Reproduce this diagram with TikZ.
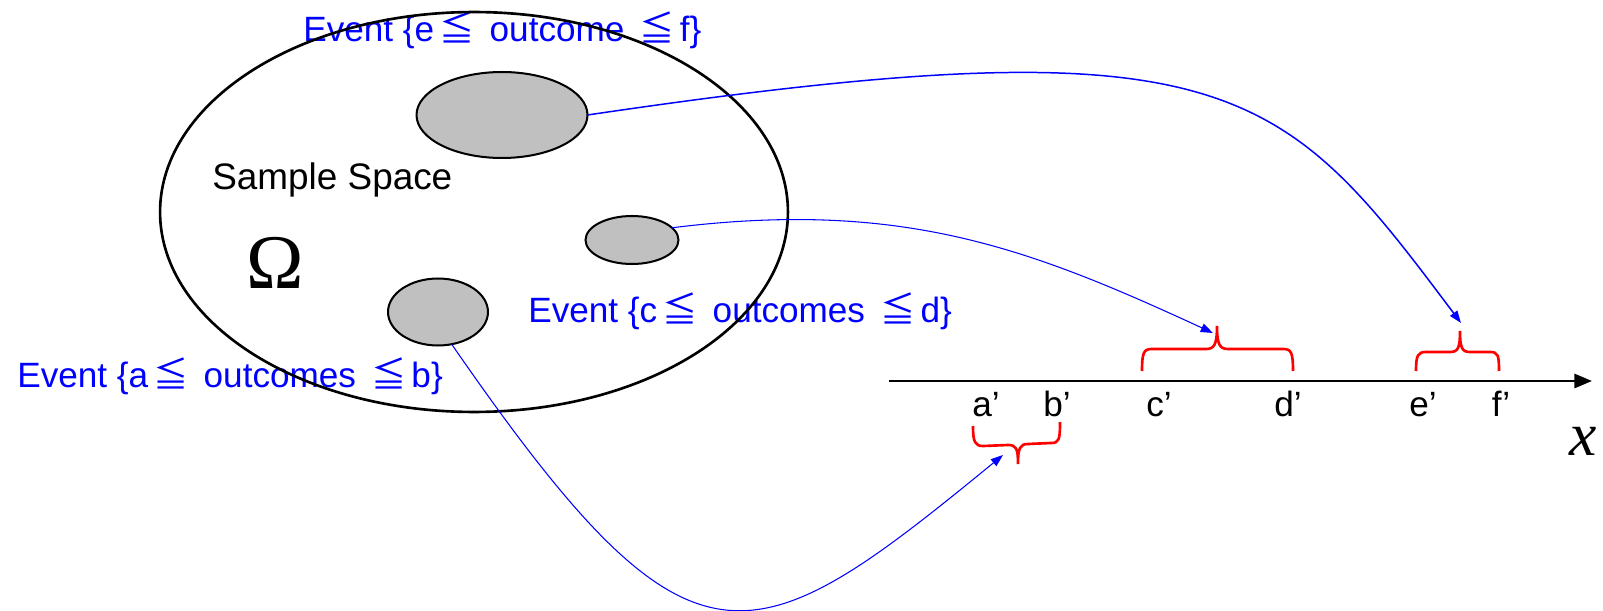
\documentclass[tikz,border=0pt]{standalone}
\usepackage{fontspec}
\setmainfont{Liberation Sans}
\newfontfamily\serifrm{Liberation Serif}
\newfontfamily\cjk{Noto Sans CJK SC}
\usetikzlibrary{arrows.meta, shapes.geometric}
\definecolor{eblue}{RGB}{0,0,255}
\definecolor{ered}{RGB}{255,0,0}
\definecolor{egray}{RGB}{192,192,192}
\newcommand{\lesq}{\makebox[1.3em][c]{\cjk ≦}}
\tikzset{
  evtxt/.style={text=eblue, font=\fontsize{20}{24}\selectfont, inner sep=0pt, anchor=base west},
  ptlbl/.style={font=\fontsize{20}{24}\selectfont, inner sep=0pt, anchor=base},
  evell/.style={ellipse, draw=black, line width=1.15pt, fill=egray, inner sep=0pt, outer sep=0pt},
  arr/.style={-{Triangle[length=7pt,width=5pt]}, eblue, line width=0.6pt},
  rbrace/.style={draw=ered, line width=1.5pt},
  axis/.style={-{Triangle[length=10pt,width=8pt]}, line width=1.5pt},
}

\begin{document}
\begin{tikzpicture}[x=0.02cm, y=-0.02cm]
  \useasboundingbox (0,0) rectangle (1603,611);

  % event labels
  \node[evtxt] (tef) at (303,42) {Event \{e\lesq{} outcome \lesq{}f\}};
  \node[evtxt] (tcd) at (528,322) {Event \{c\lesq{} outcomes \lesq{}d\}};
  \node[evtxt] (tab) at (17,387) {Event \{a\lesq{} outcomes \lesq{}b\}};

  % sample space
  \node[ellipse, draw, line width=1.5pt, minimum width=12.56cm, minimum height=8cm,
        inner sep=0pt, outer sep=0pt] (omega) at (474,212) {};
  \node[font=\fontsize{21}{25}\selectfont, inner sep=0pt, anchor=base west] (sspace) at (212,190) {Sample Space};
  \node[font=\serifrm\fontsize{44}{50}\selectfont, inner sep=0pt, anchor=base west] (om) at (246,289) {Ω};

  \node[evell, minimum width=3.42cm, minimum height=1.72cm] (evef) at (502,115) {};
  \node[evell, minimum width=1.86cm, minimum height=0.96cm] (evcd) at (632,240) {};
  \node[evell, minimum width=2.0cm, minimum height=1.34cm] (evab) at (438,312) {};

  % real line
  \coordinate (xstart) at (889,381);
  \coordinate (xend) at (1592,381);
  \draw[axis] (xstart) -- (xend);
  \node[font=\serifrm\itshape\fontsize{35}{40}\selectfont, inner sep=0pt, anchor=base west] (xlbl) at (1569,455) {x};

  \node[ptlbl] (pa) at (986,416) {a’};
  \node[ptlbl] (pb) at (1057,416) {b’};
  \node[ptlbl] (pc) at (1159,416) {c’};
  \node[ptlbl] (pd) at (1288,416) {d’};
  \node[ptlbl] (pe) at (1423,416) {e’};
  \node[ptlbl] (pf) at (1501,416) {f’};

  % braces
  \draw[rbrace] (1142,371) .. controls (1142,352) and (1144,349) .. (1152,349) -- (1206,349)
    .. controls (1214,349) and (1217,345) .. (1217,326)
    .. controls (1217,345) and (1220,349) .. (1228,349) -- (1283,349)
    .. controls (1291,349) and (1293,352) .. (1293,371);
  \draw[rbrace] (1416,371) .. controls (1416,355) and (1418,352) .. (1426,352) -- (1450,352)
    .. controls (1458,352) and (1460,348) .. (1460,331)
    .. controls (1460,348) and (1462,352) .. (1470,352) -- (1490,352)
    .. controls (1498,352) and (1499,355) .. (1499,371);
  \draw[rbrace] (973,426) .. controls (973,442) and (975,446) .. (983,446) -- (1008,445)
    .. controls (1016,445) and (1018,448) .. (1018,464)
    .. controls (1018,448) and (1020,444) .. (1028,444) -- (1051,443)
    .. controls (1059,443) and (1060,440) .. (1060,422);

  \coordinate (abtip) at (1003,455);
  \coordinate (cdtip) at (1213,333);
  \coordinate (eftip) at (1461,323);

  \draw[arr] (evab.-67) .. controls (692,692) and (748,664) .. (abtip);
  \draw[arr] (evcd.17) .. controls (903,199) and (1031,249) .. (cdtip);
  \draw[arr, line width=0.85pt] (evef.east) .. controls (1230,20) and (1281,83) .. (eftip);
\end{tikzpicture}
\end{document}
